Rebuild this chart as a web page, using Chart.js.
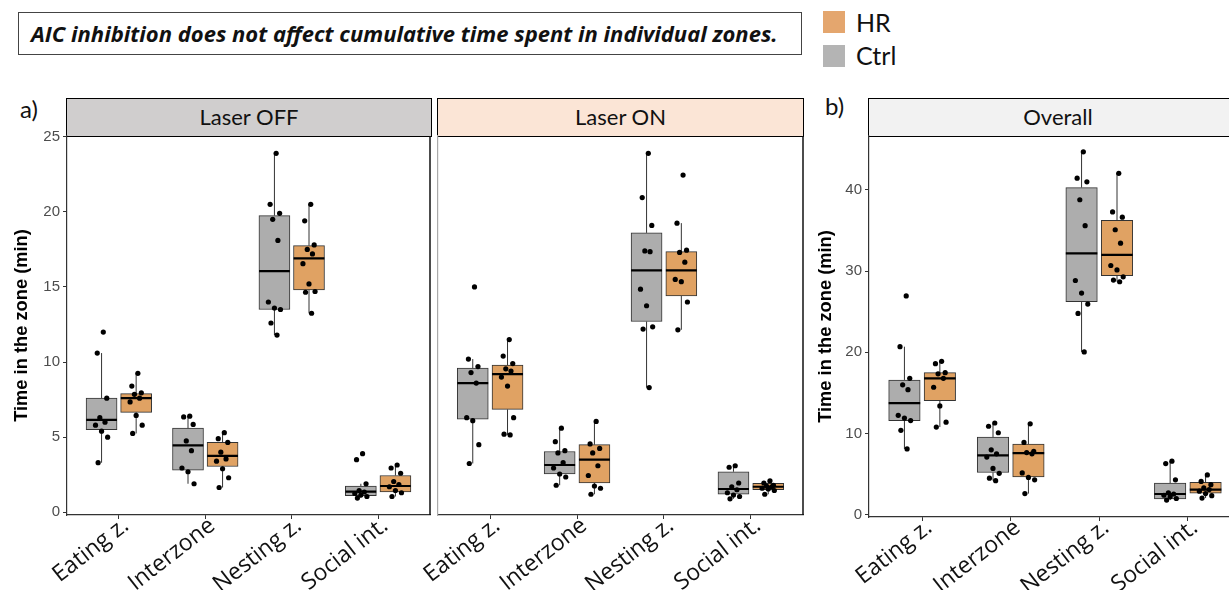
<!DOCTYPE html>
<html>
<head>
<meta charset="utf-8">
<script src="https://cdn.jsdelivr.net/npm/chart.js@4.4.1/dist/chart.umd.min.js"></script>
<style>
  body { margin: 0; width: 1229px; height: 590px; overflow: hidden; background: #fff; position: relative; font-family: Lato, sans-serif; color: #111; }
  .abs { position: absolute; }
  canvas { position: absolute; }
  #title { left: 18px; top: 12px; width: 784px; height: 43px; box-sizing: border-box; border: 1px solid #444;
           font-family: 'Open Sans', sans-serif; font-weight: bold; font-style: italic; font-size: 22px; line-height: 41px;
           padding-left: 12px; white-space: nowrap; }
  .sw { width: 22px; height: 22px; }
  .lg { font-size: 25px; line-height: 25px; }
  .strip { top: 98px; height: 39px; box-sizing: border-box; border: 1.5px solid #000; text-align: center;
           font-size: 22px; line-height: 35px; }
  .tag { font-size: 24px; }
</style>
</head>
<body>
<div id="title" class="abs">AIC inhibition does not affect cumulative time spent in individual zones.</div>
<div class="abs sw" style="left:823px;top:11px;background:#E4A66E"></div>
<div class="abs lg" style="left:856px;top:10px">HR</div>
<div class="abs sw" style="left:823px;top:45px;background:#B4B4B4"></div>
<div class="abs lg" style="left:856px;top:43px">Ctrl</div>
<div class="abs tag" style="left:20px;top:94px">a)</div>
<div class="abs tag" style="left:825px;top:91px">b)</div>
<div class="abs strip" style="left:66px;width:366px;background:#D0CECE">Laser OFF</div>
<div class="abs strip" style="left:437px;width:367px;background:#FBE5D6">Laser ON</div>
<div class="abs strip" style="left:868px;width:380px;background:#F2F2F2">Overall</div>

<canvas id="off" width="440" height="460" style="left:0;top:130px"></canvas>
<canvas id="on" width="410" height="460" style="left:410px;top:130px"></canvas>
<canvas id="all" width="460" height="460" style="left:790px;top:130px"></canvas>

<script>
const zones = ['Eating z.', 'Interzone', 'Nesting z.', 'Social int.'];
const yTicksLaser = [0, 5, 10, 15, 20, 25];
const yTicksAll = [0, 10, 20, 30, 40];

// box stats per zone: [lower whisker, q1, median, q3, upper whisker]
const offCtrlBox = [[3.3, 5.5, 6.15, 7.6, 10.6], [1.9, 2.8, 4.45, 5.6, 6.4], [11.8, 13.5, 16.05, 19.75, 23.9], [0.95, 1.1, 1.37, 1.75, 1.9]];
const offHrBox = [[5.25, 6.65, 7.6, 7.9, 9.25], [1.65, 3.05, 3.75, 4.65, 5.3], [13.25, 14.8, 16.9, 17.75, 20.5], [1.05, 1.35, 1.75, 2.45, 3.15]];
const onCtrlBox = [[3.25, 6.2, 8.6, 9.6, 10.2], [1.8, 2.55, 3.15, 4.05, 5.6], [8.3, 12.7, 16.1, 18.6, 23.9], [0.9, 1.2, 1.55, 2.7, 3.05]];
const onHrBox = [[5.15, 6.85, 9.2, 9.8, 11.5], [1.2, 1.95, 3.5, 4.5, 6.05], [12.15, 14.4, 16.1, 17.35, 19.25], [1.2, 1.5, 1.7, 1.92, 2.1]];
const allCtrlBox = [[8.1, 11.6, 13.75, 16.6, 20.7], [4.2, 5.2, 7.3, 9.55, 11.3], [20.05, 26.25, 32.2, 40.3, 44.7], [1.8, 1.95, 2.55, 3.9, 6.6]];
const allHrBox = [[10.8, 14.05, 16.8, 17.5, 18.9], [2.6, 4.65, 7.6, 8.7, 11.2], [28.7, 29.45, 32.0, 36.25, 42.05], [2.05, 2.65, 3.1, 4.0, 4.9]];

// individual animals
const offCtrlPts = [[12.0, 10.6, 7.6, 6.3, 6.0, 5.8, 5.4, 5.0, 3.3], [6.4, 6.35, 5.85, 4.75, 4.1, 2.95, 2.7, 1.9], [23.9, 20.5, 19.9, 19.5, 18.1, 14.0, 13.6, 13.5, 12.6, 11.8], [3.9, 3.5, 1.9, 1.45, 1.35, 1.25, 1.15, 1.05, 0.95]];
const offHrPts = [[9.25, 8.4, 7.95, 7.85, 7.6, 7.35, 6.45, 5.8, 5.25], [5.3, 4.9, 4.65, 4.0, 3.55, 3.4, 2.9, 2.3, 1.65], [20.5, 19.4, 17.8, 17.5, 17.2, 16.55, 15.2, 14.7, 14.65, 13.25], [3.15, 2.95, 2.6, 2.05, 1.85, 1.7, 1.45, 1.3, 1.05]];
const onCtrlPts = [[15.0, 10.2, 9.7, 9.3, 8.6, 6.3, 6.1, 4.5, 3.25], [5.6, 4.7, 4.1, 3.95, 3.3, 2.95, 2.55, 2.35, 1.8], [23.9, 20.95, 19.1, 17.4, 17.35, 14.85, 13.75, 12.35, 12.2, 8.3], [3.1, 3.0, 1.95, 1.7, 1.5, 1.3, 1.15, 1.05, 0.9]];
const onHrPts = [[11.5, 10.4, 9.9, 9.55, 9.4, 9.0, 8.4, 6.3, 5.2, 5.15], [6.05, 4.55, 4.25, 3.95, 3.1, 2.45, 1.75, 1.6, 1.2], [22.45, 19.25, 17.45, 17.3, 16.65, 15.5, 15.35, 14.0, 12.15], [2.1, 1.95, 1.8, 1.75, 1.7, 1.6, 1.55, 1.45, 1.2]];
const allCtrlPts = [[26.95, 20.7, 16.8, 16.0, 15.4, 12.25, 11.9, 11.6, 10.4, 8.1], [11.3, 10.9, 10.1, 8.0, 7.5, 7.1, 5.7, 5.1, 4.5, 4.2], [44.7, 41.45, 41.0, 38.8, 35.6, 28.85, 27.3, 25.95, 24.8, 20.05], [6.6, 6.3, 4.3, 2.7, 2.55, 2.4, 2.2, 2.0, 1.8]];
const allHrPts = [[18.9, 18.6, 17.5, 17.35, 16.8, 15.7, 13.4, 11.4, 10.8], [11.2, 8.9, 7.8, 7.65, 7.5, 5.15, 4.6, 4.3, 2.6], [42.05, 37.3, 36.65, 35.1, 33.45, 30.7, 30.15, 29.3, 28.9, 28.7], [4.9, 4.1, 3.7, 3.3, 3.1, 2.9, 2.6, 2.35, 2.05]];

// fixed horizontal jitter pattern (category units)
const jitter = [0.02, -0.05, 0.06, -0.02, 0.04, -0.07, 0.0, 0.07, -0.04, 0.03];

const CTRL = '#ADADAD', HR = '#E0A263';
const dodge = 0.2, halfBox = 0.178;

function groupSets(boxes, pts, side, color, thick) {
  const off = side * dodge;
  const bars = [], whisk = [], med = [], dots = [];
  boxes.forEach((b, i) => {
    const x = i + 1 + off;
    bars.push({ x: x, y: [b[1], b[3]] });
    whisk.push({ x: x, y: b[0] }, { x: x, y: b[1] }, { x: x, y: null }, { x: x, y: b[3] }, { x: x, y: b[4] }, { x: x, y: null });
    med.push({ x: x - halfBox, y: b[2] }, { x: x + halfBox, y: b[2] }, { x: x, y: null });
  });
  pts.forEach((arr, i) => arr.forEach((v, j) => dots.push({ x: i + 1 + off + jitter[j % jitter.length], y: v })));
  return [
    { type: 'bar', data: bars, backgroundColor: color, borderColor: '#333', borderWidth: 1, borderSkipped: false, barThickness: thick, grouped: false, order: 3 },
    { type: 'line', data: whisk, borderColor: '#333', borderWidth: 1, pointRadius: 0, spanGaps: false, order: 2 },
    { type: 'line', data: med, borderColor: '#000', borderWidth: 2.2, pointRadius: 0, spanGaps: false, order: 1 },
    { type: 'scatter', data: dots, backgroundColor: '#000', borderWidth: 0, pointRadius: 2.6, order: 0 }
  ];
}

const panelFrame = {
  id: 'panelFrame',
  afterDraw(chart, args, opts) {
    const { ctx, chartArea: a } = chart;
    ctx.save();
    ctx.lineWidth = 1.5;
    if (opts.right) {
      ctx.strokeStyle = opts.right;
      ctx.beginPath(); ctx.moveTo(a.right, a.top); ctx.lineTo(a.right, a.bottom); ctx.stroke();
    }
    ctx.restore();
  }
};

function makeChart(id, p) {
  const sets = [...groupSets(p.ctrlBox, p.ctrlPts, -1, CTRL, p.thick), ...groupSets(p.hrBox, p.hrPts, 1, HR, p.thick)];
  new Chart(document.getElementById(id), {
    type: 'bar',
    data: { datasets: sets },
    plugins: [panelFrame],
    options: {
      responsive: false,
      animation: false,
      events: [],
      layout: { padding: p.pad },
      plugins: { legend: { display: false }, tooltip: { enabled: false }, panelFrame: { right: p.rightLine } },
      scales: {
        x: {
          type: 'linear', min: 0.4, max: 4.6, offset: false,
          afterBuildTicks: s => { s.ticks = zones.map((z, i) => ({ value: i + 1 })); },
          ticks: { callback: (v, i) => zones[i], autoSkip: false, minRotation: 38, maxRotation: 38,
                   color: '#111', font: { family: 'Open Sans', size: 23 }, padding: -7, labelOffset: 7 },
          grid: { drawOnChartArea: false, offset: false, tickLength: 4, color: '#333' },
          border: { color: '#333', width: 1.2 },
          afterFit: s => { s.height = p.xH; s.paddingLeft = 0; s.paddingRight = 0; }
        },
        y: {
          type: 'linear', min: p.yMin, max: p.yMax,
          afterBuildTicks: s => { s.ticks = p.yTicks.map(v => ({ value: v })); },
          ticks: { display: p.showY, color: '#4d4d4d', font: { family: 'Liberation Sans', size: 15 }, padding: 3 },
          grid: { drawOnChartArea: false, drawTicks: p.showY, tickLength: 4, color: '#333' },
          border: { color: p.showY ? '#333' : '#aaa', width: 1.2 },
          title: { display: p.showY, text: 'Time in the zone (min)', color: '#000',
                   font: { family: 'Liberation Sans', size: 18.3, weight: 'bold' }, padding: { top: p.titlePad, bottom: 0 } },
          afterFit: s => { s.width = p.yW; s.paddingTop = 0; s.paddingBottom = 0; }
        }
      }
    }
  });
}

makeChart('off', { ctrlBox: offCtrlBox, hrBox: offHrBox, ctrlPts: offCtrlPts, hrPts: offHrPts, thick: 31,
  pad: { left: 0, right: 10, top: 6, bottom: 0 }, xH: 75, yW: 67, yMin: -0.18, yMax: 25.05, yTicks: yTicksLaser,
  showY: true, titlePad: 11, rightLine: '#111' });
makeChart('on', { ctrlBox: onCtrlBox, hrBox: onHrBox, ctrlPts: onCtrlPts, hrPts: onHrPts, thick: 31,
  pad: { left: 28, right: 17, top: 6, bottom: 0 }, xH: 75, yW: 0, yMin: -0.18, yMax: 25.05, yTicks: yTicksLaser,
  showY: false, titlePad: 0, rightLine: '#111' });
makeChart('all', { ctrlBox: allCtrlBox, hrBox: allHrBox, ctrlPts: allCtrlPts, hrPts: allHrPts, thick: 31.5,
  pad: { left: 0, right: 9, top: 6, bottom: 0 }, xH: 73, yW: 79, yMin: -0.28, yMax: 46.65, yTicks: yTicksAll,
  showY: true, titlePad: 25, rightLine: null });
</script>
</body>
</html>
